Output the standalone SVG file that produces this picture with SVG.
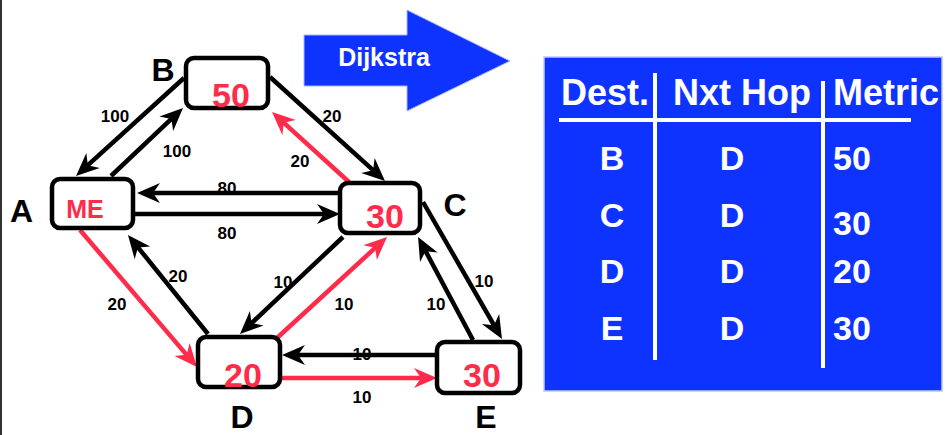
<svg xmlns="http://www.w3.org/2000/svg" width="946" height="435" viewBox="0 0 946 435">
  <style>
    .node { fill: #ffffff; stroke: #000000; stroke-width: 4.5; }
    .val { font-family: "Liberation Sans", Arial, sans-serif; font-weight: bold; fill: #ff2b4b; text-anchor: middle; }
    .name { font-family: "Liberation Sans", Arial, sans-serif; font-weight: bold; font-size: 32px; fill: #000000; text-anchor: middle; }
    .lbl { font-family: "Liberation Sans", Arial, sans-serif; font-weight: bold; font-size: 17px; fill: #000000; text-anchor: middle; }
    .blk { stroke: #000000; stroke-width: 4.5; fill: none; marker-end: url(#headBlack); }
    .red { stroke: #ff2b4b; stroke-width: 4.5; fill: none; marker-end: url(#headRed); }
    .tbl { font-family: "Liberation Sans", Arial, sans-serif; font-weight: bold; fill: #ffffff; }
  </style>
  <defs>
    <marker id="headBlack" viewBox="-12 -11 26 22" refX="0" refY="0" markerWidth="26" markerHeight="22" markerUnits="userSpaceOnUse" orient="auto">
      <path d="M12,0 L-11,-10 L-4,0 L-11,10 Z" fill="#000000"/>
    </marker>
    <marker id="headRed" viewBox="-12 -11 26 22" refX="0" refY="0" markerWidth="26" markerHeight="22" markerUnits="userSpaceOnUse" orient="auto">
      <path d="M12,0 L-11,-10 L-4,0 L-11,10 Z" fill="#ff2b4b"/>
    </marker>
  </defs>

  <!-- page edge -->
  <rect x="0" y="0" width="2" height="435" fill="#333333"/>

  <!-- link costs -->
  <g id="costs">
    <text class="lbl" x="115" y="122">100</text>
    <text class="lbl" x="177" y="157">100</text>
    <text class="lbl" x="332" y="122">20</text>
    <text class="lbl" x="300" y="167">20</text>
    <text class="lbl" x="227" y="194">80</text>
    <text class="lbl" x="227" y="239">80</text>
    <text class="lbl" x="117" y="310">20</text>
    <text class="lbl" x="178" y="282">20</text>
    <text class="lbl" x="283" y="288">10</text>
    <text class="lbl" x="344" y="310">10</text>
    <text class="lbl" x="484" y="287">10</text>
    <text class="lbl" x="436" y="310">10</text>
    <text class="lbl" x="362" y="360">10</text>
    <text class="lbl" x="362" y="403">10</text>
  </g>

  <!-- links -->
  <g id="connectors">
    <line class="blk" x1="184" y1="78" x2="84.9" y2="167.9"/>
    <line class="blk" x1="111" y1="176" x2="174.3" y2="116.2"/>
    <line class="blk" x1="270" y1="77" x2="376.1" y2="172.9"/>
    <line class="red" x1="349" y1="182" x2="280.9" y2="120.1"/>
    <line class="blk" x1="340" y1="193" x2="149" y2="193"/>
    <line class="blk" x1="133" y1="214" x2="328" y2="214"/>
    <line class="red" x1="80" y1="230" x2="189.2" y2="357.9"/>
    <line class="blk" x1="208" y1="334" x2="135.5" y2="244.3"/>
    <line class="blk" x1="343" y1="237" x2="248.7" y2="325.8"/>
    <line class="red" x1="277" y1="338" x2="378.2" y2="245.1"/>
    <line class="blk" x1="423" y1="202" x2="496" y2="328.6"/>
    <line class="blk" x1="473" y1="340" x2="423.7" y2="247.6"/>
    <line class="blk" x1="437" y1="355" x2="294" y2="355"/>
    <line class="red" x1="282" y1="378" x2="425" y2="378"/>
  </g>

  <!-- routers -->
  <g id="nodeA">
    <rect class="node" x="52" y="179" width="81" height="49" rx="8"/>
    <text class="val" x="85" y="218" font-size="25">ME</text>
    <text class="name" x="21.5" y="222">A</text>
  </g>
  <g id="nodeB">
    <rect class="node" x="186" y="58" width="82" height="50" rx="8"/>
    <text class="val" x="231" y="107" font-size="34">50</text>
    <text class="name" x="163" y="81">B</text>
  </g>
  <g id="nodeC">
    <rect class="node" x="340" y="183" width="80" height="50" rx="8"/>
    <text class="val" x="385" y="228" font-size="34">30</text>
    <text class="name" x="455" y="216">C</text>
  </g>
  <g id="nodeD">
    <rect class="node" x="198" y="337" width="82" height="50" rx="8"/>
    <text class="val" x="243" y="387" font-size="34">20</text>
    <text class="name" x="242" y="428">D</text>
  </g>
  <g id="nodeE">
    <rect class="node" x="437" y="342" width="83" height="51" rx="8"/>
    <text class="val" x="482" y="387" font-size="34">30</text>
    <text class="name" x="486" y="428">E</text>
  </g>

  <!-- Dijkstra arrow -->
  <g id="dijkstra">
    <polygon points="304,35 407,35 407,10 510,61 407,111 407,86 304,86" fill="#0f33ff" stroke="#a8b4ff" stroke-width="1"/>
    <text class="tbl" x="384" y="66" font-size="25" text-anchor="middle">Dijkstra</text>
  </g>

  <!-- routing table -->
  <g id="table">
    <rect x="544" y="57" width="398" height="334" fill="#0f33ff" stroke="#c0c8ff" stroke-width="1.5"/>
    <line x1="559" y1="120" x2="911" y2="120" stroke="#ffffff" stroke-width="4"/>
    <line x1="655" y1="73" x2="655" y2="360" stroke="#ffffff" stroke-width="4"/>
    <line x1="823" y1="81" x2="823" y2="368" stroke="#ffffff" stroke-width="4"/>
    <text class="tbl" x="561" y="105" font-size="36">Dest.</text>
    <text class="tbl" x="673" y="105" font-size="36">Nxt Hop</text>
    <text class="tbl" x="833" y="105" font-size="36">Metric</text>
    <g font-size="34" text-anchor="middle">
      <text class="tbl" x="612" y="170">B</text>
      <text class="tbl" x="612" y="227">C</text>
      <text class="tbl" x="612" y="283">D</text>
      <text class="tbl" x="612" y="340">E</text>
      <text class="tbl" x="732" y="170">D</text>
      <text class="tbl" x="732" y="227">D</text>
      <text class="tbl" x="732" y="283">D</text>
      <text class="tbl" x="732" y="340">D</text>
    </g>
    <g font-size="34">
      <text class="tbl" x="833" y="170">50</text>
      <text class="tbl" x="833" y="235">30</text>
      <text class="tbl" x="833" y="283">20</text>
      <text class="tbl" x="833" y="340">30</text>
    </g>
  </g>
</svg>
